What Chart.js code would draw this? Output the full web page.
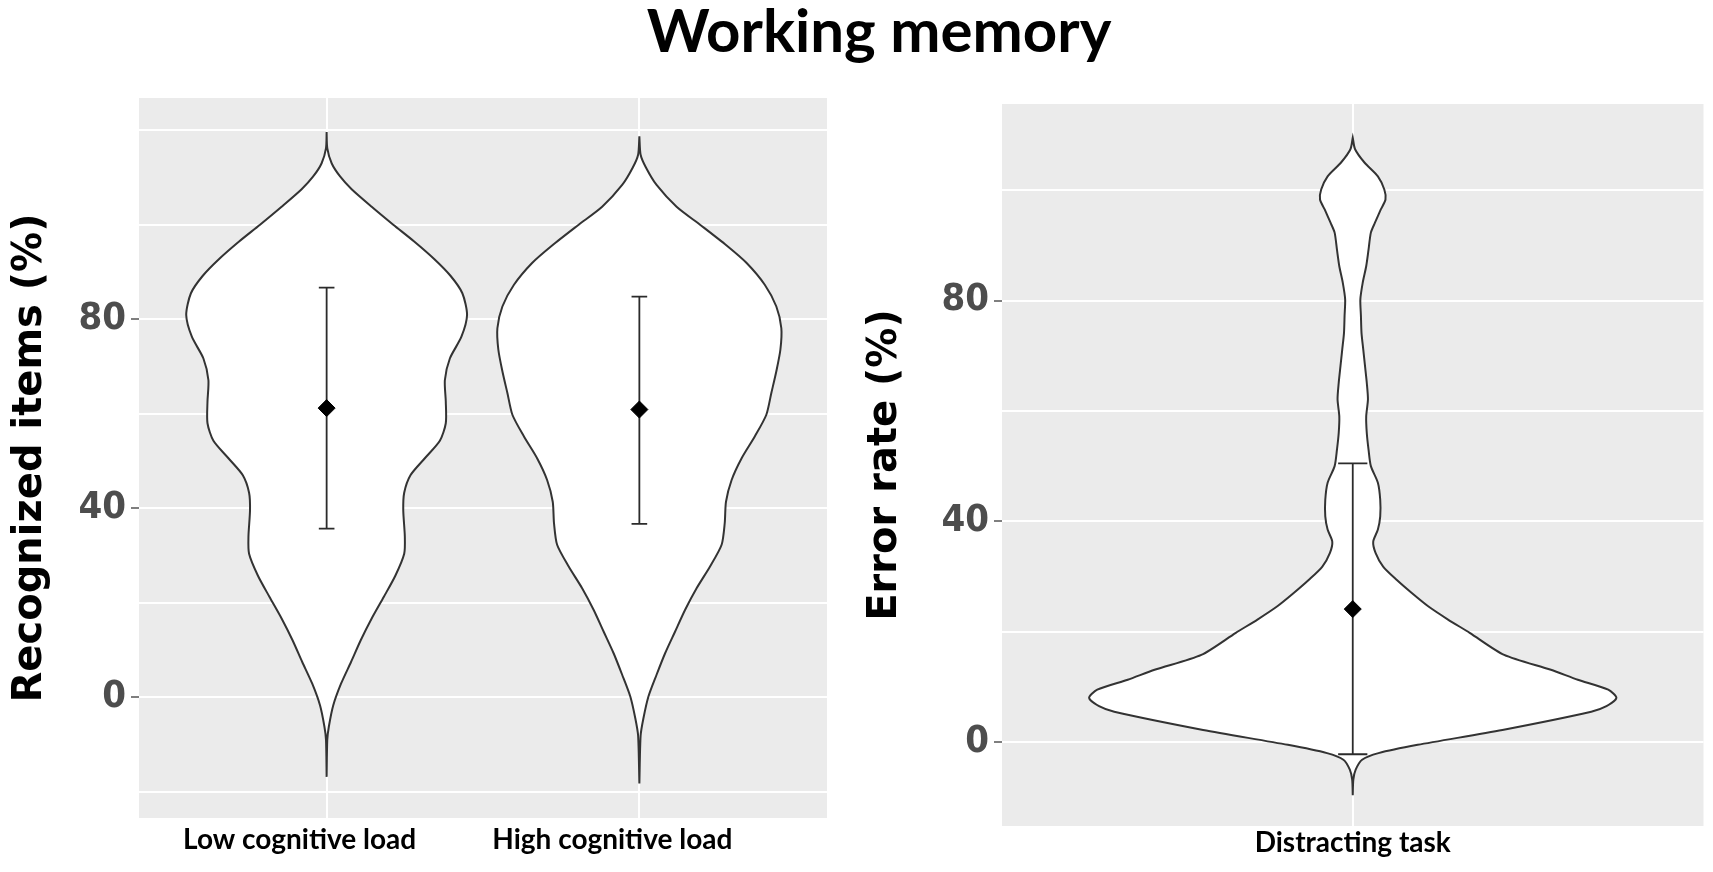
<!DOCTYPE html>
<html>
<head>
<meta charset="utf-8">
<script src="https://cdn.jsdelivr.net/npm/chart.js"></script>
<style>
  html, body { margin: 0; padding: 0; background: #fff; overflow: hidden; }
  #page { position: relative; width: 1713px; height: 872px; }
  .panel { position: absolute; top: 0; height: 872px; }
  #leftBox { left: 0; width: 850px; }
  #rightBox { left: 850px; width: 863px; }
  #mainTitle {
    position: absolute; left: 379px; width: 1000px; top: -1px;
    text-align: center; font: bold 60px Lato, sans-serif; line-height: 1; color: #000;
  }
</style>
</head>
<body>
<div id="page">
  <div class="panel" id="leftBox"><canvas id="leftChart"></canvas></div>
  <div class="panel" id="rightBox"><canvas id="rightChart"></canvas></div>
  <div id="mainTitle">Working memory</div>
</div>
<script>
// --- data ---
const leftCategories = ['Low cognitive load', 'High cognitive load'];
const rightCategories = ['Distracting task'];
const leftYTicks = [0, 40, 80];
const rightYTicks = [0, 40, 80];

// violin outlines: score levels and half widths (in category units)
const lowLoadLevels = [-16.8, -9.0, -6.2, -1.7, 2.9, 7.5, 12.1, 16.7, 21.3, 25.8, 30.4, 34.1, 39.6, 43.3, 47.0, 50.6, 54.3, 58.0, 62.6, 67.1, 71.7, 76.3, 80.9, 85.5, 89.2, 92.8, 96.5, 100.0, 103.8, 107.5, 110.2, 113.0, 116.2, 119.6];
const lowLoadHalfWidth = [0, 0.002, 0.007, 0.021, 0.046, 0.078, 0.109, 0.144, 0.183, 0.220, 0.248, 0.250, 0.245, 0.248, 0.268, 0.314, 0.362, 0.381, 0.381, 0.378, 0.394, 0.431, 0.449, 0.434, 0.396, 0.343, 0.279, 0.213, 0.144, 0.080, 0.043, 0.016, 0.002, 0];

const highLoadLevels = [-18.2, -8.1, -4.4, 0.2, 4.8, 9.3, 13.9, 18.5, 23.1, 27.7, 32.3, 36.9, 41.4, 46.0, 50.6, 55.2, 59.8, 64.4, 69.0, 73.6, 78.1, 82.7, 87.3, 91.9, 95.6, 100.0, 103.8, 108.4, 112.1, 114.8, 118.7];
const highLoadHalfWidth = [0, 0.004, 0.013, 0.029, 0.055, 0.082, 0.114, 0.146, 0.183, 0.226, 0.263, 0.273, 0.277, 0.295, 0.327, 0.369, 0.406, 0.422, 0.438, 0.451, 0.454, 0.438, 0.401, 0.343, 0.279, 0.194, 0.119, 0.055, 0.021, 0.004, 0];

const distractLevels = [-9.6, -6.8, -5.0, -3.2, -2.0, -0.5, 2.2, 5.5, 6.5, 8.0, 9.5, 11.3, 13.1, 15.8, 19.8, 22.2, 24.6, 27.0, 29.4, 31.8, 34.3, 36.3, 38.5, 40.9, 43.9, 47.0, 50.0, 53.0, 56.0, 59.0, 62.1, 65.1, 68.1, 71.1, 74.1, 77.2, 80.2, 83.2, 86.2, 89.2, 92.3, 94.1, 96.5, 98.3, 100.1, 102.5, 105.0, 107.4, 109.5];
const distractHalfWidth = [0, 0.001, 0.005, 0.016, 0.044, 0.111, 0.256, 0.408, 0.434, 0.451, 0.437, 0.385, 0.339, 0.259, 0.200, 0.163, 0.129, 0.101, 0.075, 0.052, 0.039, 0.035, 0.043, 0.047, 0.047, 0.043, 0.031, 0.027, 0.024, 0.023, 0.026, 0.024, 0.021, 0.018, 0.015, 0.014, 0.013, 0.017, 0.023, 0.027, 0.031, 0.038, 0.048, 0.056, 0.054, 0.043, 0.020, 0.004, 0];

// mean and error bar ends per category
const leftMeans = [61.2, 60.9];
const leftLower = [35.7, 36.7];
const leftUpper = [86.7, 84.8];
const rightMeans = [24.1];
const rightLower = [-2.2];
const rightUpper = [50.5];
const capHalfWidth = 0.025;

const OUTLINE = '#333333';
const TICK_FONT = { family: "'Liberation Sans Narrow', 'DejaVu Sans Condensed', Lato", weight: 'bold', size: 38 };
const CAT_FONT = { family: 'Lato', weight: 'bold', size: 28 };
const AXIS_TITLE_FONT = { family: 'DejaVu Sans', weight: 'bold', size: 40, lineHeight: 1 };

// grey panel behind the plot like ggplot
const panelBackground = {
    id: 'panelBackground',
    beforeDraw(chart) {
        const { ctx, chartArea: a } = chart;
        ctx.save();
        ctx.fillStyle = '#ebebeb';
        ctx.fillRect(a.left, a.top, a.width, a.height);
        ctx.restore();
    }
};

function violinPoints(center, levels, halfWidths) {
    const left = levels.map((y, i) => ({ x: center - halfWidths[i], y }));
    const right = levels.map((y, i) => ({ x: center + halfWidths[i], y })).reverse();
    return left.concat(right);
}

function errorBarPoints(center, lo, hi) {
    return [
        { x: center - capHalfWidth, y: hi }, { x: center + capHalfWidth, y: hi }, { x: center, y: null },
        { x: center, y: hi }, { x: center, y: lo }, { x: center, y: null },
        { x: center - capHalfWidth, y: lo }, { x: center + capHalfWidth, y: lo }
    ];
}

function violinDataset(points) {
    return {
        data: points,
        order: 3, // drawn first, under the bars
        borderColor: OUTLINE,
        borderWidth: 2,
        backgroundColor: '#ffffff',
        fill: 'shape',
        tension: 0.25,
        pointRadius: 0
    };
}

function buildDatasets(violins, means, lower, upper) {
    const sets = violins.map(v => violinDataset(v));
    means.forEach((m, i) => {
        sets.push({
            data: errorBarPoints(i + 1, lower[i], upper[i]),
            order: 2,
            borderColor: '#2b2b2b',
            borderWidth: 1.8,
            fill: false,
            tension: 0,
            pointRadius: 0
        });
    });
    sets.push({
        data: means.map((m, i) => ({ x: i + 1, y: m })),
        order: 1,
        showLine: false,
        pointStyle: 'rectRot',
        pointRadius: 8.5,
        pointBackgroundColor: '#000',
        pointBorderColor: '#000',
        pointBorderWidth: 1
    });
    return sets;
}

function makeChart(canvasId, cfg) {
    const ctx = document.getElementById(canvasId).getContext('2d');
    return new Chart(ctx, {
        type: 'line',
        data: { datasets: cfg.datasets },
        options: {
            responsive: true,
            maintainAspectRatio: false,
            animation: false,
            layout: { padding: cfg.padding },
            plugins: { legend: { display: false }, tooltip: { enabled: false } },
            scales: {
                x: {
                    type: 'linear',
                    min: 0.4,
                    max: cfg.categories.length + 0.6,
                    afterBuildTicks: axis => { axis.ticks = cfg.categories.map((_, i) => ({ value: i + 1 })); },
                    afterFit: axis => { axis.height = cfg.xHeight; },
                    ticks: {
                        callback: v => cfg.categories[Math.round(v) - 1],
                        autoSkip: false,
                        maxRotation: 0,
                        font: CAT_FONT,
                        color: '#000',
                        padding: cfg.xPad,
                        labelOffset: cfg.labelOffset
                    },
                    grid: { color: '#ffffff', lineWidth: 2, drawTicks: false },
                    border: { display: false }
                },
                y: {
                    type: 'linear',
                    min: cfg.yMin,
                    max: cfg.yMax,
                    afterFit: axis => { axis.width = cfg.yWidth; },
                    ticks: {
                        stepSize: 20,
                        includeBounds: false,
                        callback: v => cfg.yTicks.includes(v) ? String(v) : '',
                        font: TICK_FONT,
                        color: '#4d4d4d',
                        padding: 5
                    },
                    grid: {
                        color: '#ffffff',
                        lineWidth: 2,
                        tickLength: 8,
                        tickWidth: 1.5,
                        tickColor: c => (c.tick && cfg.yTicks.includes(c.tick.value)) ? '#555555' : 'rgba(0,0,0,0)'
                    },
                    border: { display: false },
                    title: {
                        display: true,
                        text: cfg.yTitle,
                        font: AXIS_TITLE_FONT,
                        color: '#000',
                        padding: { top: cfg.titlePad, bottom: 0 }
                    }
                }
            }
        },
        plugins: [panelBackground]
    });
}

function renderAll() {
    makeChart('leftChart', {
        categories: leftCategories,
        datasets: buildDatasets(
            [violinPoints(1, lowLoadLevels, lowLoadHalfWidth), violinPoints(2, highLoadLevels, highLoadHalfWidth)],
            leftMeans, leftLower, leftUpper),
        padding: { top: 98, right: 23, bottom: 0, left: 0 },
        xHeight: 54, xPad: 5, labelOffset: -27,
        yMin: -25.5, yMax: 126.8, yWidth: 139, yTicks: leftYTicks,
        yTitle: 'Recognized items (%)', titlePad: 11
    });

    makeChart('rightChart', {
        categories: rightCategories,
        datasets: buildDatasets(
            [violinPoints(1, distractLevels, distractHalfWidth)],
            rightMeans, rightLower, rightUpper),
        padding: { top: 104, right: 7, bottom: 0, left: 0 },
        xHeight: 46, xPad: 0, labelOffset: 0,
        yMin: -15.2, yMax: 115.6, yWidth: 152, yTicks: rightYTicks,
        yTitle: 'Error rate (%)', titlePad: 16
    });
}

document.addEventListener('DOMContentLoaded', async () => {
    try {
        await Promise.all([
            document.fonts.load('bold 37px Lato'),
            document.fonts.load('bold 37px "Liberation Sans Narrow"'),
            document.fonts.load('bold 40px "DejaVu Sans"')
        ]);
    } catch (e) {
        console.warn('font load', e);
    }
    renderAll();
});
</script>
</body>
</html>
